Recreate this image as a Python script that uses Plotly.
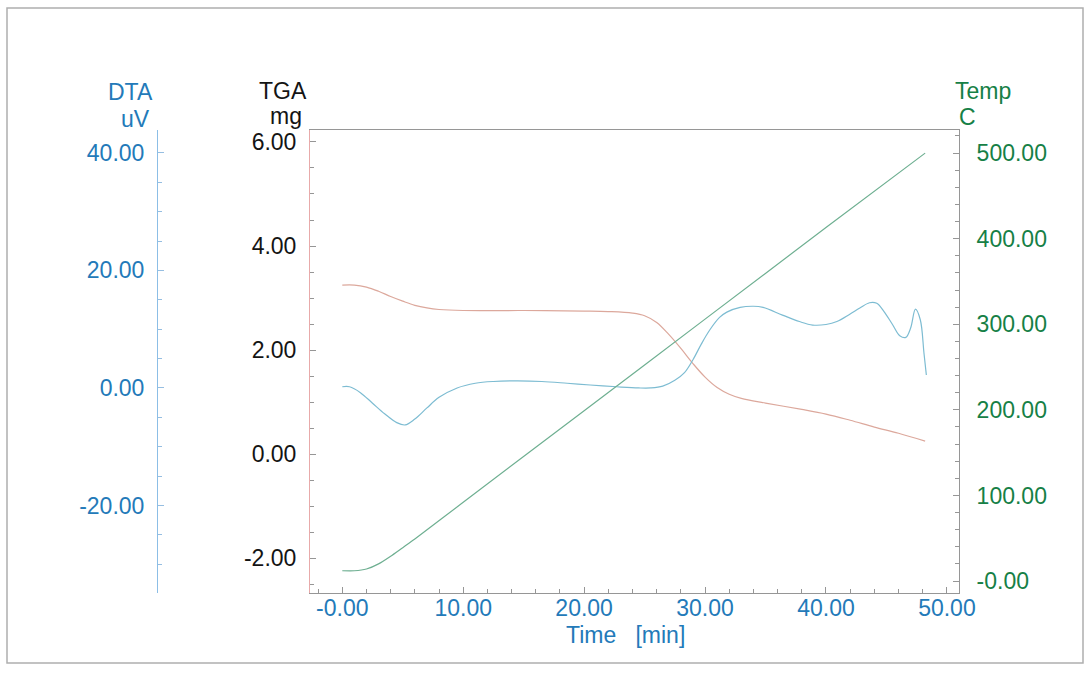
import plotly.graph_objects as go

# ---- data ----
time_temp = [0, 1, 2, 3, 4, 5, 6, 10, 20, 30, 40, 48.2]
temp_c = [12, 12, 14, 20, 29, 39, 49, 92, 199, 306, 413, 500]

time_tga = [0, 1, 2, 3, 4, 5, 6, 7, 8, 10, 15, 20, 22, 24, 25, 26, 27, 28, 29, 30,
            31, 32, 33, 35, 38, 40, 42, 44, 46, 48.2]
tga_mg = [3.25, 3.25, 3.21, 3.13, 3.03, 2.94, 2.86, 2.81, 2.78, 2.76, 2.76, 2.75,
          2.74, 2.71, 2.66, 2.53, 2.30, 2.03, 1.74, 1.48, 1.28, 1.15, 1.07, 0.98,
          0.86, 0.77, 0.65, 0.52, 0.40, 0.25]

time_dta = [0, 0.6, 1.5, 2.5, 3.5, 4.5, 5.2, 6.0, 7.0, 8.0, 9.5, 11, 12.5, 14.5,
            16.5, 18.6, 20.5, 22.7, 24.5, 25.5, 26.5, 27.5, 28.3, 29.0, 29.7, 30.4,
            31.2, 31.8, 32.9, 34.0, 34.8, 36.4, 37.8, 38.9, 40.0, 40.9, 42.0, 42.8,
            43.6, 44.2, 44.8, 45.5, 46.1, 46.6, 47.0, 47.4, 47.8, 48.1, 48.3]
dta_uv = [0.2, 0.2, -0.8, -2.6, -4.4, -5.9, -6.3, -5.3, -3.4, -1.6, 0.0, 0.8, 1.1,
          1.2, 1.1, 0.8, 0.5, 0.2, 0.0, 0.0, 0.3, 1.3, 2.6, 4.8, 7.5, 9.9, 12.0,
          12.9, 13.7, 13.9, 13.7, 12.4, 11.3, 10.7, 10.8, 11.3, 12.6, 13.6, 14.5,
          14.4, 13.0, 10.8, 8.9, 8.6, 10.2, 13.4, 11.6, 6.0, 2.2]

x_tickvals = [0, 10, 20, 30, 40, 50]
x_ticktext = ["-0.00", "10.00", "20.00", "30.00", "40.00", "50.00"]
tga_tickvals = [-2, 0, 2, 4, 6]
tga_ticktext = ["-2.00", "0.00", "2.00", "4.00", "6.00"]
dta_tickvals = [-20, 0, 20, 40]
dta_ticktext = ["-20.00", "0.00", "20.00", "40.00"]
temp_tickvals = [0, 100, 200, 300, 400, 500]
temp_ticktext = ["-0.00", "100.00", "200.00", "300.00", "400.00", "500.00"]

# ---- styling ----
W, H = 1091, 673
PL, PR, PT, PB = 310, 959, 130, 593  # plot area in pixels
FONT = "Liberation Sans, Arial, sans-serif"
FS = 23
BLUE = "rgb(35,122,185)"
GREEN = "rgb(22,128,70)"
BLACK = "rgb(20,20,20)"
GRAY = "rgb(150,150,150)"


def px_x(p):
    return p / W


def px_y(p):
    return (PB - p) / (PB - PT)


fig = go.Figure()
fig.add_trace(go.Scatter(x=time_tga, y=tga_mg, mode="lines", line=dict(color="rgb(220,168,156)", width=1.2, shape="spline"), yaxis="y", showlegend=False))
fig.add_trace(go.Scatter(x=time_dta, y=dta_uv, mode="lines", line=dict(color="rgb(125,188,210)", width=1.2, shape="spline"), yaxis="y2", showlegend=False))
fig.add_trace(go.Scatter(x=time_temp, y=temp_c, mode="lines", line=dict(color="rgb(110,175,145)", width=1.2, shape="spline", smoothing=0.6), yaxis="y3", showlegend=False))

fig.update_layout(
    width=W, height=H,
    margin=dict(l=0, r=0, t=PT, b=H - PB, autoexpand=False),
    paper_bgcolor="white", plot_bgcolor="white",
    font=dict(family=FONT, size=FS),
    xaxis=dict(
        domain=[PL / W, PR / W], range=[-2.67, 51.0],
        tickvals=x_tickvals, ticktext=x_ticktext,
        ticks="inside", ticklen=6, tickcolor=GRAY,
        minor=dict(ticks="inside", dtick=2, ticklen=4, tickcolor=GRAY),
        showline=True, linecolor=GRAY, linewidth=1, mirror=True,
        showgrid=False, zeroline=False,
        tickfont=dict(color=BLUE, size=FS), ticklabelstandoff=-6,
    ),
    yaxis=dict(
        range=[-2.67, 6.23], tickvals=tga_tickvals, ticktext=tga_ticktext,
        ticks="inside", ticklen=6, tickcolor=GRAY,
        minor=dict(ticks="inside", dtick=0.5, ticklen=4, tickcolor=GRAY),
        showline=True, linecolor="rgb(232,170,170)", linewidth=1,
        showgrid=False, zeroline=False,
        tickfont=dict(color=BLACK, size=FS), ticklabelstandoff=8,
    ),
    yaxis2=dict(
        range=[-34.9, 43.9], tickvals=dta_tickvals, ticktext=dta_ticktext,
        overlaying="y", anchor="free", side="left", position=157 / W,
        ticks="inside", ticklen=6, tickcolor="rgb(150,190,225)",
        minor=dict(ticks="inside", dtick=5, ticklen=4, tickcolor="rgb(150,190,225)"),
        showline=True, linecolor="rgb(140,190,230)", linewidth=1,
        showgrid=False, zeroline=False,
        tickfont=dict(color=BLUE, size=FS), ticklabelstandoff=8,
    ),
    yaxis3=dict(
        range=[-14, 527], tickvals=temp_tickvals, ticktext=temp_ticktext,
        overlaying="y", anchor="x", side="right",
        ticks="inside", ticklen=6, tickcolor=GRAY,
        minor=dict(ticks="inside", dtick=20, ticklen=4, tickcolor=GRAY),
        showline=True, linecolor=GRAY, linewidth=1,
        showgrid=False, zeroline=False,
        tickfont=dict(color=GREEN, size=FS), ticklabelstandoff=12,
    ),
)

# outer frame
fig.add_shape(type="rect", xref="paper", yref="paper",
              x0=px_x(7), x1=px_x(1083), y0=px_y(663), y1=px_y(8),
              line=dict(color="rgb(175,175,175)", width=1.5), layer="below")

ann = [
    ("DTA", 155, 92, "right", BLUE),
    ("uV", 152, 119, "right", BLUE),
    ("TGA", 309, 91, "right", BLACK),
    ("mg", 304, 116, "right", BLACK),
    ("Temp", 953, 91, "left", GREEN),
    ("C", 957, 117, "left", GREEN),
    ("Time&nbsp;&nbsp;&nbsp;[min]", 625, 635, "center", BLUE),
]
for text, x, y, anchor, color in ann:
    fig.add_annotation(text=text, xref="paper", yref="paper", x=px_x(x), y=px_y(y),
                       xanchor=anchor, yanchor="middle", showarrow=False,
                       font=dict(family=FONT, size=FS, color=color))

fig.write_html("out.html", config={"displayModeBar": False},
               post_script="document.body.style.margin='0px';document.body.style.overflow='hidden';")
